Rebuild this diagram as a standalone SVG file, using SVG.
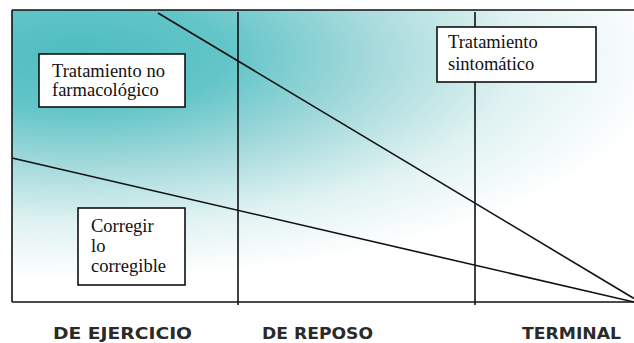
<svg xmlns="http://www.w3.org/2000/svg" width="634" height="343" viewBox="0 0 634 343">
<defs>
<radialGradient id="bg" gradientUnits="userSpaceOnUse" cx="80" cy="55" r="590" gradientTransform="translate(80 55) scale(1 0.38) translate(-80 -55)">
<stop offset="0" stop-color="#4ebdc1"/>
<stop offset="0.25" stop-color="#63c5c8"/>
<stop offset="0.5" stop-color="#a6dadc"/>
<stop offset="0.75" stop-color="#e0f2f2"/>
<stop offset="1" stop-color="#ffffff"/>
</radialGradient>
<style>
.ln{stroke:#111;stroke-width:1.6;fill:none}
.box{fill:#fff;stroke:#111;stroke-width:1.6}
.t{font-family:"Liberation Serif","Times New Roman",serif;font-size:18.5px;fill:#111}
.ax{font-family:"DejaVu Sans",Verdana,sans-serif;font-weight:bold;font-size:16px;fill:#2a2a2a}
</style>
</defs>
<rect x="12" y="10" width="622" height="292" fill="url(#bg)"/>
<g id="frame">
<line class="ln" x1="12" y1="10" x2="634" y2="10"/>
<line class="ln" x1="12" y1="10" x2="12" y2="302"/>
<line class="ln" x1="12" y1="302" x2="634" y2="302"/>
<line class="ln" x1="238" y1="12" x2="238" y2="305"/>
<line class="ln" x1="475" y1="12" x2="475" y2="305"/>
</g>
<g id="connectors">
<line class="ln" x1="158" y1="13" x2="634" y2="298.5"/>
<line class="ln" x1="12" y1="158" x2="634" y2="302"/>
</g>
<g id="node-no-farmaco">
<rect class="box" x="39" y="54" width="146" height="53"/>
<text class="t" x="52" y="77">Tratamiento no</text>
<text class="t" x="52" y="96">farmacológico</text>
</g>
<g id="node-sintomatico">
<rect class="box" x="437" y="27" width="159" height="55"/>
<text class="t" x="448" y="48">Tratamiento</text>
<text class="t" x="448" y="70">sintomático</text>
</g>
<g id="node-corregir">
<rect class="box" x="78" y="208" width="107" height="77"/>
<text class="t" x="91" y="232">Corregir</text>
<text class="t" x="91" y="252">lo</text>
<text class="t" x="91" y="272">corregible</text>
</g>
<g id="axis-labels">
<text class="ax" x="53" y="339" textLength="139" lengthAdjust="spacingAndGlyphs">DE EJERCICIO</text>
<text class="ax" x="262" y="339" textLength="111" lengthAdjust="spacingAndGlyphs">DE REPOSO</text>
<text class="ax" x="522" y="339" textLength="99" lengthAdjust="spacingAndGlyphs">TERMINAL</text>
</g>
</svg>
